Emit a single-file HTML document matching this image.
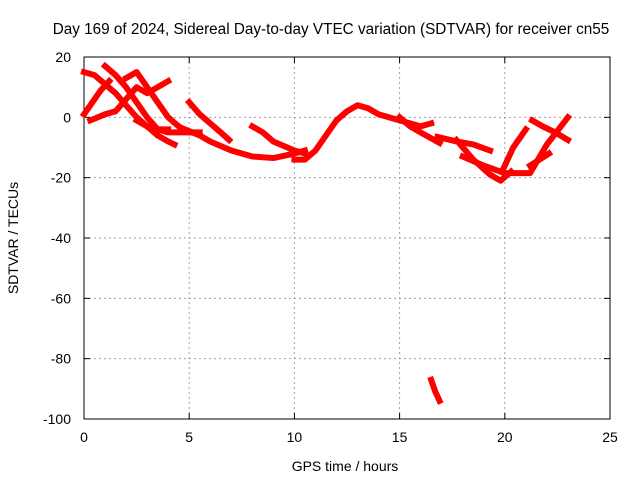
<!DOCTYPE html>
<html><head><meta charset="utf-8"><style>
body{margin:0;background:#fff}
svg text{font-family:"Liberation Sans",sans-serif;font-size:14px;fill:#000}
</style></head><body>
<svg id="chart" width="640" height="480">
<text x="331" y="34" text-anchor="middle" style="font-size:15.3px">Day 169 of 2024, Sidereal Day-to-day VTEC variation (SDTVAR) for receiver cn55</text>
<g id="grid"></g>
<g id="axes"></g>
<g id="series"></g>
<text x="345" y="471" text-anchor="middle">GPS time / hours</text>
<text transform="translate(18,238) rotate(-90)" text-anchor="middle">SDTVAR / TECUs</text>
</svg>
<script>
const xTicks=[0,5,10,15,20,25];
const yTicks=[20,0,-20,-40,-60,-80,-100];
const arcHours=[
[0,0.5,1,1.5,2,2.5,3,3.5,4,4.3],
[0,0.4,0.8,1.2],
[0.3,1,1.5,2,2.5,3,3.5,4],
[1,1.5,2,2.5,3,3.5,4,5],
[2,2.5,3,3.5,4,4.5,5,5.5],
[2.5,3,3.5,4],
[5,5.5,6,6.5,6.9],
[4.8,5.5,6,7,8,9,10,10.5],
[8,8.5,9,10,10.5],
[10,10.5,11,11.5,12,12.5,13,13.5,14,15,16,16.5],
[15,15.5,16,16.9],
[16.8,17.7,18.5,19.3],
[17.7,18.5,19.3,19.8,20.3],
[18,19,20,21.2,22,23],
[19.9,20.4,21],
[21.2,22.1],
[21.3,21.8,22.4,23],
[16.5,16.7,16.9]];
const arcValues=[
[15,14,11,8,4,0,-3,-6,-8,-9],
[1,5,9,12],
[-1,1,2,6,10,8,10,12],
[17,14,10,5,0,-4,-5,-5],
[13,15,10,5,0,-3,-5,-5],
[-1,-3,-4,-4],
[5,1,-2,-5,-7.5],
[-4,-6,-8,-11,-13,-13.5,-12,-11],
[-3,-5,-8,-11,-12],
[-14,-14,-11,-6,-1,2,4,3,1,-1,-3,-2],
[0,-3,-5,-8.5],
[-6.5,-8,-9,-11],
[-7.5,-14,-19,-21,-18],
[-13,-16,-18.5,-18.5,-9,0],
[-17.5,-10,-4],
[-16,-12],
[-1,-3,-5,-7.5],
[-87,-91,-94]];
const X0=84,X1=610,Y0=419,Y1=57;
const xs=h=>X0+(h-0)/(25-0)*(X1-X0);
const ys=v=>Y0-(v+100)/120*(Y0-Y1);
const NS="http://www.w3.org/2000/svg";
const grid=document.getElementById('grid'),axes=document.getElementById('axes'),ser=document.getElementById('series');
function mk(tag,attrs,parent){const e=document.createElementNS(NS,tag);for(const k in attrs)e.setAttribute(k,attrs[k]);parent.appendChild(e);return e;}
xTicks.forEach(t=>{const x=xs(t);
 if(t>0&&t<25){const g=mk('line',{x1:x,x2:x,y1:Y0,y2:Y1,stroke:'#a0a0a0','stroke-dasharray':'2,3'},grid);
 
 }
 mk('line',{x1:x,x2:x,y1:Y0,y2:Y0-6,stroke:'#000'},axes);mk('line',{x1:x,x2:x,y1:Y1,y2:Y1+6,stroke:'#000'},axes);
 const tx=mk('text',{x:x,y:Y0+23,'text-anchor':'middle'},axes);tx.textContent=t;
 
 });
yTicks.forEach(t=>{const y=ys(t);
 if(t>-100&&t<20){const g=mk('line',{x1:X0,x2:X1,y1:y,y2:y,stroke:'#a0a0a0','stroke-dasharray':'2,3'},grid);
 
 }
 mk('line',{x1:X0,x2:X0+6,y1:y,y2:y,stroke:'#000'},axes);mk('line',{x1:X1,x2:X1-6,y1:y,y2:y,stroke:'#000'},axes);
 const tx=mk('text',{x:X0-13,y:y+5,'text-anchor':'end'},axes);tx.textContent=t;
 
 });
mk('rect',{x:X0,y:Y1,width:X1-X0,height:Y0-Y1,fill:'none',stroke:'#000'},axes);
arcHours.forEach((hs,i)=>{const pts=hs.map((h,j)=>xs(h)+','+ys(arcValues[i][j])).join(' ');
 const p=mk('polyline',{points:pts,fill:'none',stroke:'#ff0000','stroke-width':6,'stroke-linejoin':'round','stroke-linecap':'square'},ser);
 
 });
</script>
</body></html>
